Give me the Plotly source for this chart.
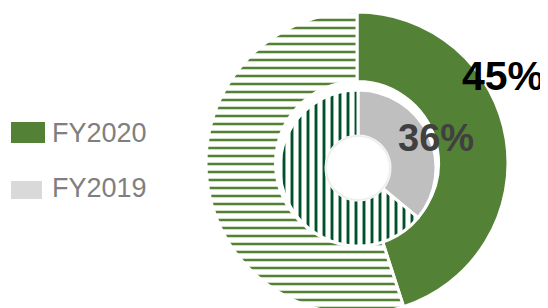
import plotly.graph_objects as go

# Data
series_names = ["FY2020", "FY2019"]
fy2020_values = [45, 55]
fy2019_values = [36, 64]
legend_colors = ["#538135", "#D9D9D9"]

# Figure size (page has an 8px body margin, compensated below)
W, H = 540, 308
OFF = 8


def px(x):
    return (x - OFF) / W


def py(y):
    return 1 - (y - OFF) / H


fig = go.Figure()

# Outer ring: FY2020  (page centre 357,163 ; r 151)
ocx, ocy, orr = 357, 163, 151
fig.add_trace(go.Pie(
    values=fy2020_values,
    labels=["FY2020", "FY2020 rest"],
    sort=False,
    direction="clockwise",
    rotation=0,
    hole=0.54,
    textinfo="none",
    hoverinfo="label+value",
    showlegend=False,
    domain=dict(x=[px(ocx - orr), px(ocx + orr)], y=[py(ocy + orr), py(ocy - orr)]),
    marker=dict(
        colors=["#538135", "white"],
        line=dict(color="white", width=3),
        pattern=dict(
            shape=["", "-"],
            fgcolor="#538135",
            bgcolor="white",
            size=8,
            solidity=0.32,
            fillmode="replace",
        ),
    ),
))

# Inner ring: FY2019  (page centre 358,168 ; r 78)
icx, icy, irr = 358, 168, 78
ihole = 0.41
fig.add_trace(go.Pie(
    values=fy2019_values,
    labels=["FY2019", "FY2019 rest"],
    sort=False,
    direction="clockwise",
    rotation=0,
    hole=ihole,
    textinfo="none",
    hoverinfo="label+value",
    showlegend=False,
    domain=dict(x=[px(icx - irr), px(icx + irr)], y=[py(icy + irr), py(icy - irr)]),
    marker=dict(
        colors=["#BFBFBF", "white"],
        line=dict(color="white", width=3),
        pattern=dict(
            shape=["", "|"],
            fgcolor="#00502A",
            bgcolor="white",
            size=8,
            solidity=0.36,
            fillmode="replace",
        ),
    ),
))

shapes = []
annotations = []

# Custom legend (page coordinates)
legend_boxes = [(11, 122, 45, 143), (11, 181, 42, 199)]
legend_text_y = [133, 188]
for name, col, (x0, y0, x1, y1), ty in zip(series_names, legend_colors, legend_boxes, legend_text_y):
    shapes.append(dict(type="rect", xref="paper", yref="paper",
                       x0=px(x0), x1=px(x1), y0=py(y1), y1=py(y0),
                       fillcolor=col, line=dict(width=0)))
    annotations.append(dict(text=name, xref="paper", yref="paper",
                            x=px(50), y=py(ty), xanchor="left", yanchor="middle",
                            showarrow=False,
                            font=dict(family="Liberation Sans, Arial", size=27, color="#7F7F7F")))

# Hole border (faint), concentric with inner ring hole
hr = irr * ihole
shapes.append(dict(type="circle", xref="paper", yref="paper",
                   x0=px(icx - hr), x1=px(icx + hr),
                   y0=py(icy + hr), y1=py(icy - hr),
                   line=dict(color="#EEEEEE", width=2)))

# Value labels
annotations.append(dict(text=f"{fy2020_values[0]}%", xref="paper", yref="paper",
                        x=px(503), y=py(76), xanchor="center", yanchor="middle",
                        showarrow=False,
                        font=dict(family="Liberation Sans, Arial", size=41, color="black", weight="bold")))
annotations.append(dict(text=f"{fy2019_values[0]}%", xref="paper", yref="paper",
                        x=px(436), y=py(138), xanchor="center", yanchor="middle",
                        showarrow=False,
                        font=dict(family="Liberation Sans, Arial", size=38, color="#404040", weight="bold")))

fig.update_layout(
    width=W, height=H,
    margin=dict(l=0, r=0, t=0, b=0),
    paper_bgcolor="white",
    plot_bgcolor="white",
    shapes=shapes,
    annotations=annotations,
    showlegend=False,
)

fig.write_html("out.html")
